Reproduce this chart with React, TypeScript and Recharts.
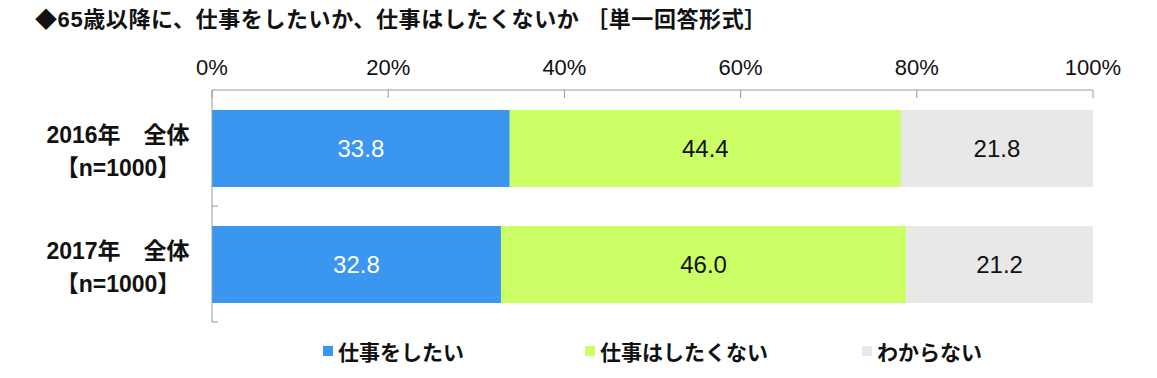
import React from 'react';
import { BarChart, Bar, XAxis, YAxis, Legend, LabelList } from 'recharts';

const TITLE = '◆65歳以降に、仕事をしたいか、仕事はしたくないか ［単一回答形式］';
const GROUPS = ['2016年\u3000全体', '2017年\u3000全体'];
const SAMPLES = ['【n=1000】', '【n=1000】'];
const SERIES = ['仕事をしたい', '仕事はしたくない', 'わからない'];
const WANT = [33.8, 32.8];
const NOT_WANT = [44.4, 46.0];
const DONT_KNOW = [21.8, 21.2];
const X_TICKS = [0, 20, 40, 60, 80, 100];

const COLORS = ['#3b96f0', '#ccff66', '#e8e8e8'];
const FONT = "'Liberation Sans', 'Noto Sans CJK JP', sans-serif";
const LEGEND_X = [323, 585, 862];

const data = GROUPS.map((g, i) => ({
  name: g,
  sample: SAMPLES[i],
  want: WANT[i],
  notWant: NOT_WANT[i],
  dontKnow: DONT_KNOW[i],
}));

const XTick = ({ x, y, payload }: any) => (
  <g>
    <text x={x} y={y - 15} textAnchor="middle" fontSize={22} fill="#111" fontFamily={FONT}>
      {payload.value}%
    </text>
    <line x1={x} y1={y} x2={x} y2={y + 8} stroke="#999" />
  </g>
);

const YTick = ({ x, y, payload, index }: any) => (
  <g>
    <text x={x - 94} y={y - 5} textAnchor="middle" fontSize={23} fontWeight="bold" fill="#111" fontFamily={FONT}>
      {payload.value}
    </text>
    <text x={x - 94} y={y + 28} textAnchor="middle" fontSize={23} fontWeight="bold" fill="#111" fontFamily={FONT}>
      {SAMPLES[index]}
    </text>
    <line x1={x} y1={y + 58} x2={x + 6} y2={y + 58} stroke="#999" />
  </g>
);

const LegendBox = () => (
  <div style={{ position: 'relative', width: 1157, height: 56 }}>
    {SERIES.map((s, i) => (
      <div
        key={s}
        style={{
          position: 'absolute',
          left: LEGEND_X[i],
          top: 14,
          display: 'flex',
          alignItems: 'center',
          fontFamily: FONT,
          fontWeight: 'bold',
          fontSize: 21,
          color: '#111',
          whiteSpace: 'nowrap',
        }}
      >
        <span style={{ width: 10, height: 10, background: COLORS[i], marginRight: 5, display: 'inline-block' }} />
        {s}
      </div>
    ))}
  </div>
);

const fmt = (v: any) => Number(v).toFixed(1);

export default function App() {
  return (
    <div style={{ position: 'absolute', left: 0, top: 0, width: 1157, height: 378, background: '#fff' }}>
      <div
        style={{
          position: 'absolute',
          left: 35,
          top: 6,
          fontFamily: FONT,
          fontWeight: 'bold',
          fontSize: 22,
          letterSpacing: 0.6,
          color: '#111',
          whiteSpace: 'nowrap',
          lineHeight: '28px',
        }}
      >
        {TITLE}
      </div>
      <BarChart
        width={1157}
        height={378}
        data={data}
        layout="vertical"
        margin={{ top: 0, right: 64, bottom: 0, left: 0 }}
      >
        <XAxis
          type="number"
          orientation="top"
          domain={[0, 100]}
          ticks={X_TICKS}
          height={90}
          tickSize={0}
          tickMargin={0}
          tickLine={false}
          axisLine={{ stroke: '#999' }}
          tick={<XTick />}
          interval={0}
        />
        <YAxis
          type="category"
          dataKey="name"
          width={212}
          tickSize={0}
          tickMargin={0}
          tickLine={false}
          axisLine={{ stroke: '#999' }}
          tick={<YTick />}
          interval={0}
        />
        <Legend
          verticalAlign="bottom"
          content={<LegendBox />}
          wrapperStyle={{ left: 0, top: 322, width: 1157, height: 56 }}
        />
        <Bar dataKey="want" name={SERIES[0]} stackId="a" fill={COLORS[0]} barSize={77} isAnimationActive={false}>
          <LabelList dataKey="want" position="center" formatter={fmt} fill="#fff" fontSize={24} fontFamily={FONT} />
        </Bar>
        <Bar dataKey="notWant" name={SERIES[1]} stackId="a" fill={COLORS[1]} barSize={77} isAnimationActive={false}>
          <LabelList dataKey="notWant" position="center" formatter={fmt} fill="#111" fontSize={24} fontFamily={FONT} />
        </Bar>
        <Bar dataKey="dontKnow" name={SERIES[2]} stackId="a" fill={COLORS[2]} barSize={77} isAnimationActive={false}>
          <LabelList dataKey="dontKnow" position="center" formatter={fmt} fill="#111" fontSize={24} fontFamily={FONT} />
        </Bar>
      </BarChart>
    </div>
  );
}
